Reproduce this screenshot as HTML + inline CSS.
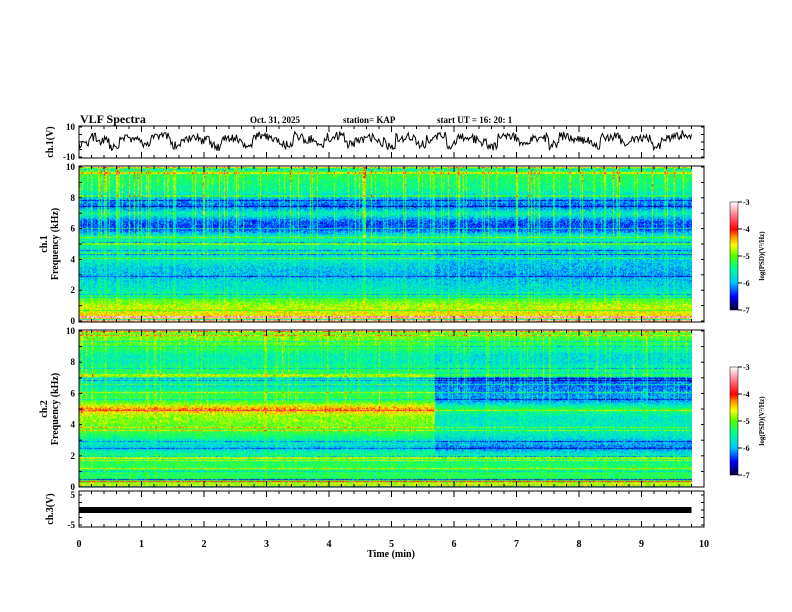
<!DOCTYPE html>
<html><head><meta charset="utf-8"><style>
body{margin:0;background:#fff;}
#wrap{position:relative;width:792px;height:612px;overflow:hidden;background:#fff;font-family:"Liberation Serif",serif;font-weight:bold;}
canvas{position:absolute;}
svg{position:absolute;left:0;top:0;}
</style></head><body>
<div id="wrap">
<canvas id="spec1" width="613" height="155" style="left:79px;top:167px"></canvas>
<canvas id="spec2" width="613" height="156" style="left:79px;top:331px"></canvas>
<canvas id="cb1" width="8" height="108" style="left:730px;top:202px"></canvas>
<canvas id="cb2" width="8" height="108" style="left:730px;top:367px"></canvas>
<svg id="svg" width="792" height="612"></svg>
</div>
<script>
// ---- data ----
const freqGrid = [0,0.5,1,1.5,2,2.5,3,3.5,4,4.5,5,5.5,6,6.5,7,7.5,8,8.5,9,9.5,10];
const ch1Early = [-4.5,-4.6,-4.8,-5.2,-5.7,-5.8,-6.0,-5.9,-5.7,-5.7,-5.6,-5.6,-6.4,-6.3,-5.6,-6.3,-6.0,-5.5,-5.4,-5.3,-5.3];
const ch1Late  = [-4.5,-4.6,-4.8,-5.2,-5.8,-5.9,-6.1,-6.0,-5.9,-5.9,-5.7,-5.6,-6.4,-6.3,-5.6,-6.3,-6.0,-5.5,-5.4,-5.3,-5.3];
const ch2Early = [-4.5,-5.3,-5.3,-5.3,-5.4,-5.9,-5.6,-5.2,-5.0,-4.9,-4.3,-5.2,-5.3,-5.8,-5.5,-5.3,-5.6,-5.6,-5.2,-5.0,-5.0];
const ch2Late  = [-4.5,-5.3,-5.3,-5.4,-5.6,-6.2,-5.9,-5.6,-5.7,-5.7,-5.3,-6.1,-6.1,-6.3,-6.2,-5.4,-5.8,-5.8,-5.4,-5.2,-5.1];
const changeTime = 5.7;   // minutes
const dataEnd = 9.8;      // minutes
const ch1Wave = [-2,3,1,-3,4,2,-1,3,5,-2,2,4,1,-3,3,2,-2,4,3,0,-2,4,2,-1,3,4,-2,2,3,0,-3,3,4,-1,2,4,-2,3,2,0,-3,4,3,-1,2,3,-2,4,2,1,-2,3,4,-1,2,3,-3,2,4,5];
const ch3Value = 0;
const xTicks = [0,1,2,3,4,5,6,7,8,9,10];
const freqTicks = [0,2,4,6,8,10];
const cbTicks = [-3,-4,-5,-6,-7];

// ---- scales ----
const X0=79,X1=704;
const xs = t => X0 + (X1-X0)*t/10;
function hash(a,b){let h=(a*374761393+b*668265263)^0x5bd1e995;h=(h^(h>>>13))*1274126177;h^=h>>>16;return ((h>>>0)%10000)/10000;}
function interp(arr,f){const i=Math.min(19,Math.floor(f/0.5));const r=(f-i*0.5)/0.5;return arr[i]*(1-r)+arr[i+1]*r;}
const stops=[[0,[0,0,60]],[0.12,[0,0,255]],[0.25,[0,200,255]],[0.38,[0,255,150]],[0.5,[80,255,0]],[0.6,[255,255,0]],[0.68,[255,150,0]],[0.75,[255,0,0]],[0.88,[255,120,140]],[1,[255,255,255]]];
function cmap(v){let u=(v+7)/4;u=Math.max(0,Math.min(1,u));for(let i=1;i<stops.length;i++){if(u<=stops[i][0]){const a=stops[i-1],b=stops[i];const r=(u-a[0])/(b[0]-a[0]);return a[1].map((c,k)=>Math.round(c+(b[1][k]-c)*r));}}return [255,255,255];}

function drawSpec(id,early,late,streakAmp,seed){
  const cv=document.getElementById(id),ctx=cv.getContext('2d');
  const W=cv.width,H=cv.height,img=ctx.createImageData(W,H);
  const rowOff=[],colStreak=[];
  for(let y=0;y<H;y++){const r=hash(y,seed+7);const f=10*(1-y/(H-1));
    if(f<0.5){rowOff.push(r>0.66?1.2:(r<0.33?-1.2:0));}
    else rowOff.push(r>0.9?0.6:(r<0.05?-0.5:0));}
  for(let x=0;x<W;x++){const r=hash(x,seed+3);colStreak.push(r>0.75?(r-0.75)*4:0);}
  for(let y=0;y<H;y++){
    const f=10*(1-y/(H-1));
    for(let x=0;x<W;x++){
      const t=x/(W-1)*dataEnd;
      let v=interp(t<changeTime?early:late,f);
      v+=(hash(x,y+seed)-0.5)*0.7+rowOff[y];
      const s=colStreak[x];
      if(s>0){const w=f>5.5?1:(f>1?0.35:0.15);v+=s*streakAmp*w*(0.6+0.4*hash(x,y>>3));}
      const c=cmap(v),i=(y*W+x)*4;img.data[i]=c[0];img.data[i+1]=c[1];img.data[i+2]=c[2];img.data[i+3]=255;
    }
  }
  ctx.putImageData(img,0,0);
}
drawSpec('spec1',ch1Early,ch1Late,1.2,11);
drawSpec('spec2',ch2Early,ch2Late,0.7,29);
function drawCb(id){const cv=document.getElementById(id),ctx=cv.getContext('2d');for(let y=0;y<cv.height;y++){const c=cmap(-3-4*y/(cv.height-1));ctx.fillStyle=`rgb(${c})`;ctx.fillRect(0,y,8,1);}}
drawCb('cb1');drawCb('cb2');

// ---- svg axes ----
const svg=document.getElementById('svg');const NS='http://www.w3.org/2000/svg';
function el(tag,attrs,name,txt){const e=document.createElementNS(NS,tag);for(const k in attrs)e.setAttribute(k,attrs[k]);


if(txt!==undefined)e.textContent=txt;svg.appendChild(e);return e;}
function text(x,y,s,size,name,anchor,rot){const a={x:x,y:y,'font-size':size,'font-family':'Liberation Serif, serif','font-weight':'bold','text-anchor':anchor||'start'};if(rot)a.transform=`rotate(-90 ${x} ${y})`;return el('text',a,name,s);}
const panels=[{y0:126,y1:158,name:'ch1-waveform-panel'},{y0:166,y1:322,name:'ch1-spectrum-panel'},{y0:330,y1:487,name:'ch2-spectrum-panel'},{y0:491,y1:527,name:'ch3-panel'}];
panels.forEach(p=>{
  el('rect',{x:X0,y:p.y0,width:X1-X0,height:p.y1-p.y0,fill:'none',stroke:'#000','stroke-width':1},p.name+'-frame');
  for(let k=0;k<=50;k++){const x=xs(k*0.2);const L=k%5==0?6:3;
    el('line',{x1:x,y1:p.y0,x2:x,y2:p.y0+L,stroke:'#000'},'x-tick');
    el('line',{x1:x,y1:p.y1,x2:x,y2:p.y1-L,stroke:'#000'},'x-tick');}
});
// ch1 waveform
let pts=[];const nW=600;
for(let i=0;i<nW;i++){const t=i/(nW-1)*dataEnd;const seg=Math.min(ch1Wave.length-1,Math.floor(t/dataEnd*ch1Wave.length));
 const v=ch1Wave[seg]+(hash(i,5)-0.5)*6;pts.push(`${xs(t).toFixed(1)},${(142-v*15/10).toFixed(1)}`);}
el('polyline',{points:pts.join(' '),fill:'none',stroke:'#000','stroke-width':1},'ch1-waveform-line');
// ch3 bar
const y3=510-ch3Value*3;
el('rect',{x:X0,y:y3-3,width:xs(dataEnd)-X0,height:6,fill:'#000'},'ch3-signal-bar');
// y ticks & labels
function yt(p,vals,vmin,vmax,ty0,ty1,nm,minorStep){
  for(let v=vmin;v<=vmax+1e-6;v+=minorStep){const y=ty1-(v-vmin)/(vmax-vmin)*(ty1-ty0);
    el('line',{x1:X0,y1:y,x2:X0+3,y2:y,stroke:'#000'},'y-tick');el('line',{x1:X1,y1:y,x2:X1-3,y2:y,stroke:'#000'},'y-tick');}
  vals.forEach(v=>{const y=ty1-(v-vmin)/(vmax-vmin)*(ty1-ty0);text(X0-4,y+3,String(v),9,nm+'-tick-label','end');});
}
yt(0,[10,-10],-10,10,127,157,'ch1-v',5);
yt(1,freqTicks,0,10,167,321,'ch1-freq',1);
yt(2,freqTicks,0,10,331,487,'ch2-freq',1);
yt(3,[5,-5],-5,5,495,525,'ch3-v',2.5);
xTicks.forEach(t=>text(xs(t),547,String(t),10,'x-tick-label','middle'));
text(391,557,'Time  (min)',10,'x-axis-title','middle');
text(53,142,'ch.1(V)',10,'ch1-y-title','middle',true);
text(47,244,'ch.1',10,'ch1-y-title','middle',true);
text(58,244,'Frequency  (kHz)',10,'ch1-freq-title','middle',true);
text(47,409,'ch.2',10,'ch2-y-title','middle',true);
text(58,409,'Frequency  (kHz)',10,'ch2-freq-title','middle',true);
text(53,509,'ch.3(V)',10,'ch3-y-title','middle',true);
text(80,123,'VLF  Spectra',12,'chart-title');
text(250,123,'Oct. 31, 2025',9,'date-label');
text(343,123,'station= KAP',9,'station-label');
text(437,123,'start  UT  =   16: 20: 1',9,'start-time-label');
// colorbars
[[202,'cb1'],[367,'cb2']].forEach(([top,nm])=>{
  el('rect',{x:730,y:top,width:8,height:108,fill:'none',stroke:'#000','stroke-width':0.5},nm+'-frame');
  cbTicks.forEach((v,i)=>{const y=top+i*27;el('line',{x1:738,y1:y,x2:742,y2:y,stroke:'#000'},nm+'-tick');text(743,y+3,String(v),8,nm+'-tick-label');});
  text(764,top+54,'log(PSD)(V²/Hz)',7,nm+'-title','middle',true);
});
</script>
</body></html>
